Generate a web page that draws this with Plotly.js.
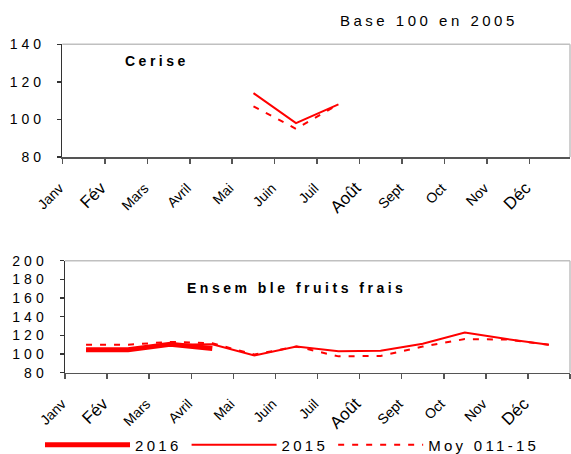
<!DOCTYPE html>
<html><head><meta charset="utf-8">
<script src="https://cdn.plot.ly/plotly-3.0.1.min.js"></script>
<style>
body{margin:0;background:#fff;}
#chart{width:571px;height:454px;}
.ytick text, .y2tick text {letter-spacing:4px;}
.annotation-text {letter-spacing:3.5px;}
.legendtext {letter-spacing:3.3px;}
</style></head><body><div id="chart"></div>
<script>
// ---- data ----
const months = ['Janv','Fév','Mars','Avril','Mai','Juin','Juil','Août','Sept','Oct','Nov','Déc'];
const monthLabels = ['Janv','<span style="font-size:17px">Fév</span>','Mars','Avril','Mai','Juin','Juil',
  '<span style="font-size:17px">Août</span>','Sept','Oct','Nov','<span style="font-size:17px">Déc</span>'];
const seriesNames = ['2016','2015','Moy 011-15'];

const cerise2015 = [null,null,null,null,114,98,108,null,null,null,null,null];
const ceriseMoy  = [null,null,null,null,107,95,108,null,null,null,null,null];

const fruits2016 = [104.5,104.5,110.5,106,null,null,null,null,null,null,null,null];
const fruits2015 = [104,104,110,110.5,98.5,108,103,103.5,111,123,116,110];
const fruitsMoy  = [110,110,113,111.5,99.5,108,97.5,98,108,116,115.5,110];

const yTop = [80,140], yBottom = [80,200];
const titleTop = 'Cerise', titleBottom = 'Ensem ble fruits frais', baseNote = 'Base 100 en 2005';

// ---- styles ----
const RED = '#ff0000';
const FONT = '"Liberation Sans", Arial, sans-serif';
const W = 571, H = 454;

const traces = [
  {x: months, y: cerise2015, xaxis:'x', yaxis:'y', mode:'lines', line:{color:RED, width:2}, showlegend:false, hoverinfo:'skip'},
  {x: months, y: ceriseMoy, xaxis:'x', yaxis:'y', mode:'lines', line:{color:RED, width:2, dash:'6px,8px'}, showlegend:false, hoverinfo:'skip'},
  {x: months, y: fruitsMoy, xaxis:'x2', yaxis:'y2', name: seriesNames[2], legendrank:3, mode:'lines', line:{color:RED, width:2, dash:'6px,8px'}},
  {x: months, y: fruits2015, xaxis:'x2', yaxis:'y2', name: seriesNames[1], legendrank:2, mode:'lines', line:{color:RED, width:2}},
  {x: months, y: fruits2016, xaxis:'x2', yaxis:'y2', name: seriesNames[0], legendrank:1, mode:'lines', line:{color:RED, width:5}}
];

function xAxis(domain, range, shift){
  return {domain: domain, type:'category', categoryorder:'array', categoryarray: months,
    range: range, tickson:'boundaries', tickmode:'array', tickvals: months, ticktext: monthLabels,
    ticks:'outside', ticklen:5, tickwidth:1.5, tickcolor:'#555', showline:true, linecolor:'#555', linewidth:1.5,
    showgrid:false, zeroline:false, tickangle:-45, ticklabelshift: shift, ticklabelstandoff: 16,
    tickfont:{family:FONT, size:14, color:'#000'}, fixedrange:true, automargin:false};
}
function yAxis(domain, range){
  return {domain: domain, range: range, dtick:20, tick0:80, ticks:'outside', ticklen:4, tickwidth:1.5, tickcolor:'#333',
    showline:true, linecolor:'#333', linewidth:1.5, showgrid:false, zeroline:false,
    tickfont:{family:FONT, size:14, color:'#000'}, ticklabelstandoff: 9, fixedrange:true, automargin:false};
}

const layout = {
  width: W, height: H, margin:{l:0, r:0, t:0, b:0, pad:0, autoexpand:false},
  paper_bgcolor:'#fff', plot_bgcolor:'#fff',
  font:{family: FONT, color:'#000'},
  xaxis: Object.assign(xAxis([62.3/W, 570/W], [-0.5, 11.45], -24), {anchor:'y'}),
  yaxis: Object.assign(yAxis([1-157/H, 1-44.3/H], yTop), {anchor:'x'}),
  xaxis2: Object.assign(xAxis([65/W, 570/W], [-0.5, 11.5], -24), {anchor:'y2'}),
  yaxis2: Object.assign(yAxis([1-372.7/H, 1-260.7/H], yBottom), {anchor:'x2'}),
  showlegend: true,
  legend: {orientation:'h', xref:'container', yref:'container', x: 40/W, xanchor:'left', y: 1-445/H, yanchor:'middle', itemwidth: 85,
    font:{family: FONT, size:15, color:'#000'}, bgcolor:'rgba(0,0,0,0)', traceorder:'normal'},
  shapes: [
    {type:'line', xref:'x domain', yref:'y domain', x0:0, x1:1, y0:1, y1:1, line:{color:'#c0c0c0', width:1.5}},
    {type:'line', xref:'x domain', yref:'y domain', x0:1, x1:1, y0:0, y1:1, line:{color:'#c0c0c0', width:1.5}},
    {type:'line', xref:'x2 domain', yref:'y2 domain', x0:0, x1:1, y0:1, y1:1, line:{color:'#c0c0c0', width:1.5}},
    {type:'line', xref:'x2 domain', yref:'y2 domain', x0:1, x1:1, y0:0, y1:1, line:{color:'#c0c0c0', width:1.5}}
  ],
  annotations: [
    {text: baseNote, xref:'paper', yref:'paper', x: 428.5/W, y: 1-20/H, xanchor:'center', yanchor:'middle', showarrow:false,
      font:{family:FONT, size:15, color:'#000'}},
    {text: '<b>'+titleTop+'</b>', xref:'paper', yref:'paper', x: 156.5/W, y: 1-61/H, xanchor:'center', yanchor:'middle', showarrow:false,
      font:{family:FONT, size:14, color:'#000'}},
    {text: '<b>'+titleBottom+'</b>', xref:'paper', yref:'paper', x: 296.5/W, y: 1-288/H, xanchor:'center', yanchor:'middle', showarrow:false,
      font:{family:FONT, size:14, color:'#000'}}
  ]
};

Plotly.newPlot('chart', traces, layout, {staticPlot:true, displayModeBar:false});
</script></body></html>
